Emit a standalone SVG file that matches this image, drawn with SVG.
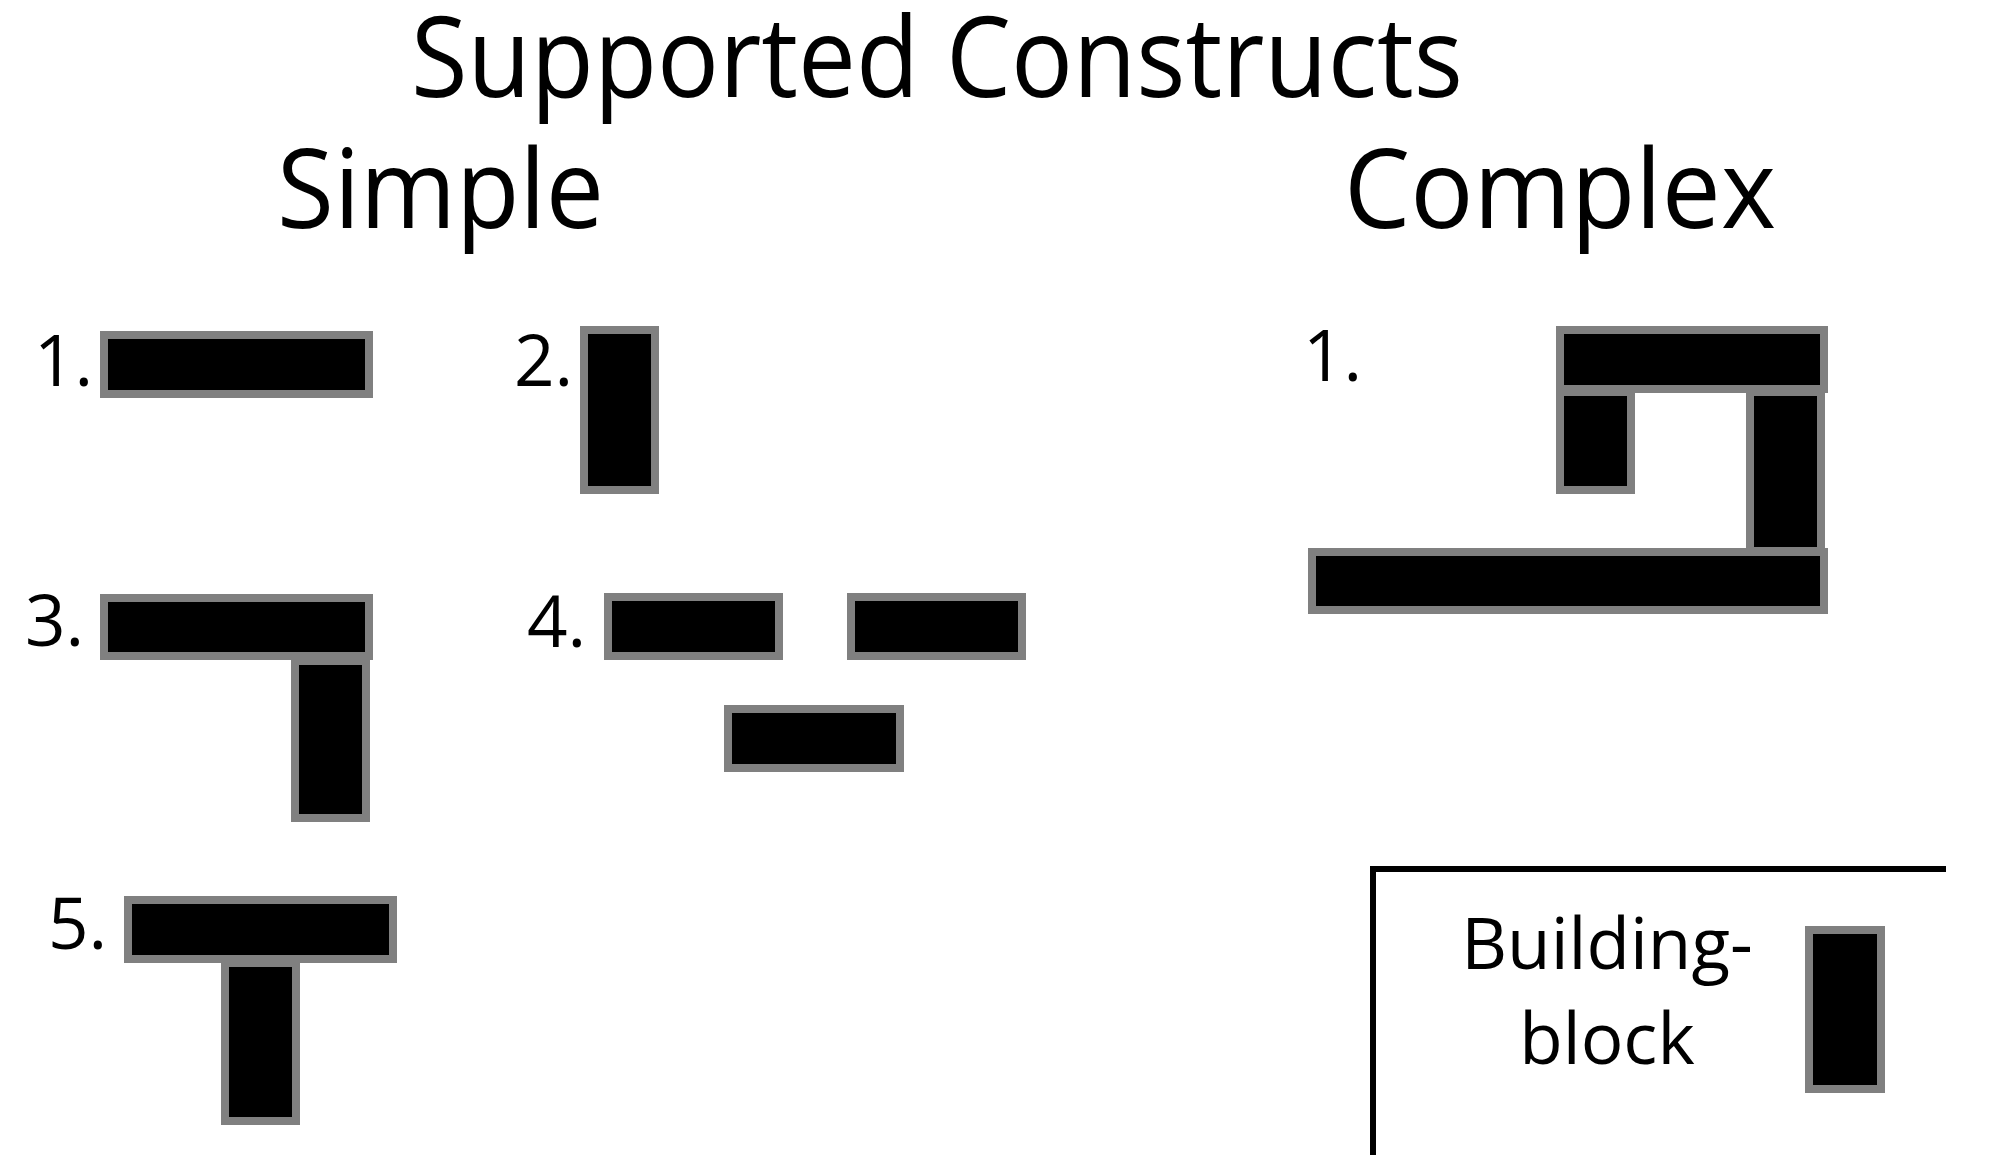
<svg xmlns="http://www.w3.org/2000/svg" width="2000" height="1155" viewBox="0 0 2000 1155">
<style>
  .blk { fill: #000; stroke: #808080; stroke-width: 8; }
  .t { font-family: "Open Sans", "Noto Sans", sans-serif; fill: #000; }
  .h1 { font-size: 112px; }
  .h2 { font-size: 110px; }
  .num { font-size: 71px; }
  .lg { font-size: 71px; text-anchor: middle; }
  .frame { fill: none; stroke: #000; stroke-width: 6; }
</style>
<rect width="2000" height="1155" fill="#fff"/>
<g id="titles">
  <text class="t h1" x="411" y="97" textLength="1052" lengthAdjust="spacingAndGlyphs">Supported Constructs</text>
  <text class="t h2" x="277" y="228" textLength="327" lengthAdjust="spacingAndGlyphs">Simple</text>
  <text class="t h2" x="1344" y="228" textLength="432" lengthAdjust="spacingAndGlyphs">Complex</text>
</g>
<g id="simple-1">
  <text class="t num" x="34" y="386">1.</text>
  <rect class="blk" x="104" y="335" width="265" height="59"/>
</g>
<g id="simple-2">
  <text class="t num" x="514" y="386">2.</text>
  <rect class="blk" x="584" y="330" width="71" height="160"/>
</g>
<g id="simple-3">
  <text class="t num" x="25" y="646">3.</text>
  <rect class="blk" x="104" y="598" width="265" height="58"/>
  <rect class="blk" x="295" y="661" width="71" height="157"/>
</g>
<g id="simple-4">
  <text class="t num" x="527" y="647">4.</text>
  <rect class="blk" x="608" y="597" width="171" height="59"/>
  <rect class="blk" x="851" y="597" width="171" height="59"/>
  <rect class="blk" x="728" y="709" width="172" height="59"/>
</g>
<g id="simple-5">
  <text class="t num" x="48" y="949">5.</text>
  <rect class="blk" x="225" y="963" width="71" height="158"/>
  <rect class="blk" x="128" y="900" width="265" height="59"/>
</g>
<g id="complex-1">
  <text class="t num" x="1303" y="381">1.</text>
  <rect class="blk" x="1560" y="330" width="264" height="59"/>
  <rect class="blk" x="1560" y="392" width="71" height="98"/>
  <rect class="blk" x="1750" y="392" width="71" height="159"/>
  <rect class="blk" x="1312" y="552" width="512" height="58"/>
</g>
<g id="legend">
  <path class="frame" d="M1373,1155 V869 H1946"/>
  <text class="t lg" x="1607" y="969">Building-</text>
  <text class="t lg" x="1607" y="1064">block</text>
  <rect class="blk" x="1809" y="930" width="72" height="159"/>
</g>
</svg>
